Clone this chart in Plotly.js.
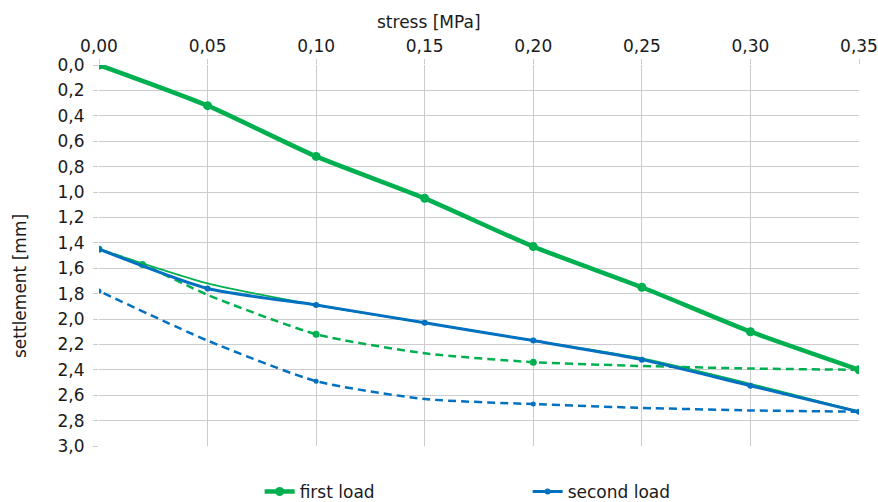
<!DOCTYPE html>
<html>
<head>
<meta charset="utf-8">
<script src="https://cdn.plot.ly/plotly-3.0.1.min.js"></script>
<style>html,body{margin:0;padding:0;background:#fff;}#chart{width:878px;height:502px;}</style>
</head>
<body>
<div id="chart"></div>
<script>
// stress [MPa]
const stress = [0.00, 0.05, 0.10, 0.15, 0.20, 0.25, 0.30, 0.35];

// first load - loading
const firstLoad = [0.00, 0.32, 0.72, 1.05, 1.43, 1.75, 2.10, 2.40];
// first load - unloading (dashed)
const firstUnloadStress = [0.35, 0.30, 0.25, 0.20, 0.15, 0.10, 0.05, 0.02, 0.00];
const firstUnload = [2.40, 2.39, 2.37, 2.34, 2.27, 2.12, 1.81, 1.57, 1.45];
const firstUnloadMarkerStress = [0.35, 0.20, 0.10, 0.02, 0.00];
const firstUnloadMarker = [2.40, 2.34, 2.12, 1.57, 1.45];
// first load - reloading (thin)
const firstReload = [1.45, 1.72, 1.89, 2.03, 2.17, 2.31, 2.51, 2.73];

// second load - loading
const secondLoad = [1.45, 1.76, 1.89, 2.03, 2.17, 2.32, 2.525, 2.73];
// second load - unloading (dashed)
const secondUnloadStress = [0.35, 0.30, 0.25, 0.20, 0.15, 0.10, 0.05, 0.00];
const secondUnload = [2.73, 2.72, 2.70, 2.67, 2.63, 2.49, 2.17, 1.78];
const secondUnloadMarkerStress = [0.35, 0.20, 0.10, 0.00];
const secondUnloadMarker = [2.73, 2.67, 2.49, 1.78];

const yTicks = [0.0,0.2,0.4,0.6,0.8,1.0,1.2,1.4,1.6,1.8,2.0,2.2,2.4,2.6,2.8,3.0];
const xTicks = [0.00,0.05,0.10,0.15,0.20,0.25,0.30,0.35];

const GREEN = '#00B050';
const BLUE = '#0070C0';
const FS = 17;

const traces = [
  {x: firstUnloadStress, y: firstUnload, mode: 'lines', line: {color: GREEN, width: 2.5, dash: '8px,5px', shape: 'spline', smoothing: 0.6}, showlegend: false, hoverinfo: 'skip'},
  {x: firstUnloadMarkerStress, y: firstUnloadMarker, mode: 'markers', marker: {color: GREEN, size: 7}, showlegend: false, hoverinfo: 'skip'},
  {x: secondUnloadStress, y: secondUnload, mode: 'lines', line: {color: BLUE, width: 2.5, dash: '8px,5px', shape: 'spline', smoothing: 0.6}, showlegend: false, hoverinfo: 'skip'},
  {x: secondUnloadMarkerStress, y: secondUnloadMarker, mode: 'markers', marker: {color: BLUE, size: 5}, showlegend: false, hoverinfo: 'skip'},
  {x: stress, y: firstReload, mode: 'lines', line: {color: GREEN, width: 1.8, shape: 'spline', smoothing: 0.6}, showlegend: false, hoverinfo: 'skip'},
  {x: stress, y: secondLoad, mode: 'lines+markers', name: 'second load', line: {color: BLUE, width: 3, shape: 'spline', smoothing: 0.6}, marker: {color: BLUE, size: 6}},
  {x: stress, y: firstLoad, mode: 'lines+markers', name: 'first load', line: {color: GREEN, width: 4.5, shape: 'spline', smoothing: 0.6}, marker: {color: GREEN, size: 9}}
];

const layout = {
  width: 878, height: 502,
  margin: {l: 99, r: 19, t: 65, b: 56, autoexpand: false},
  paper_bgcolor: '#ffffff', plot_bgcolor: '#ffffff',
  separators: ',.',
  font: {family: 'DejaVu Sans, Verdana, sans-serif', size: FS, color: '#1a1a1a'},
  xaxis: {
    side: 'top', range: [0, 0.35], tickvals: xTicks, tickformat: '.2f',
    showgrid: true, gridcolor: '#cccccc', gridwidth: 1,
    ticks: 'outside', ticklen: 5, tickcolor: '#cccccc',
    zeroline: false, showline: false, fixedrange: true,
    tickfont: {size: FS}, automargin: false
  },
  yaxis: {
    range: [3, 0], tickvals: yTicks, tickformat: '.1f',
    showgrid: true, gridcolor: '#cccccc', gridwidth: 1,
    ticks: 'outside', ticklen: 5, tickcolor: '#cccccc',
    zeroline: false, showline: false, fixedrange: true,
    tickfont: {size: FS}, ticklabelstandoff: 5, automargin: false
  },
  legend: {
    orientation: 'h', x: 0.564, xanchor: 'center', yref: 'container', y: 0.02, yanchor: 'middle',
    traceorder: 'reversed', font: {size: FS}, entrywidth: 223, entrywidthmode: 'pixels'
  },
  annotations: [
    {text: 'stress [MPa]', xref: 'paper', yref: 'paper', x: (429 - 99) / 760, y: 1 + (65 - 22) / 381, xanchor: 'center', yanchor: 'middle', showarrow: false, font: {size: FS}},
    {text: 'settlement [mm]', textangle: -90, xref: 'paper', yref: 'paper', x: (20 - 99) / 760, y: (446 - 286) / 381, xanchor: 'center', yanchor: 'middle', showarrow: false, font: {size: FS}}
  ],
  showlegend: true
};

Plotly.newPlot('chart', traces, layout, {displayModeBar: false, staticPlot: true});
</script>
</body>
</html>
